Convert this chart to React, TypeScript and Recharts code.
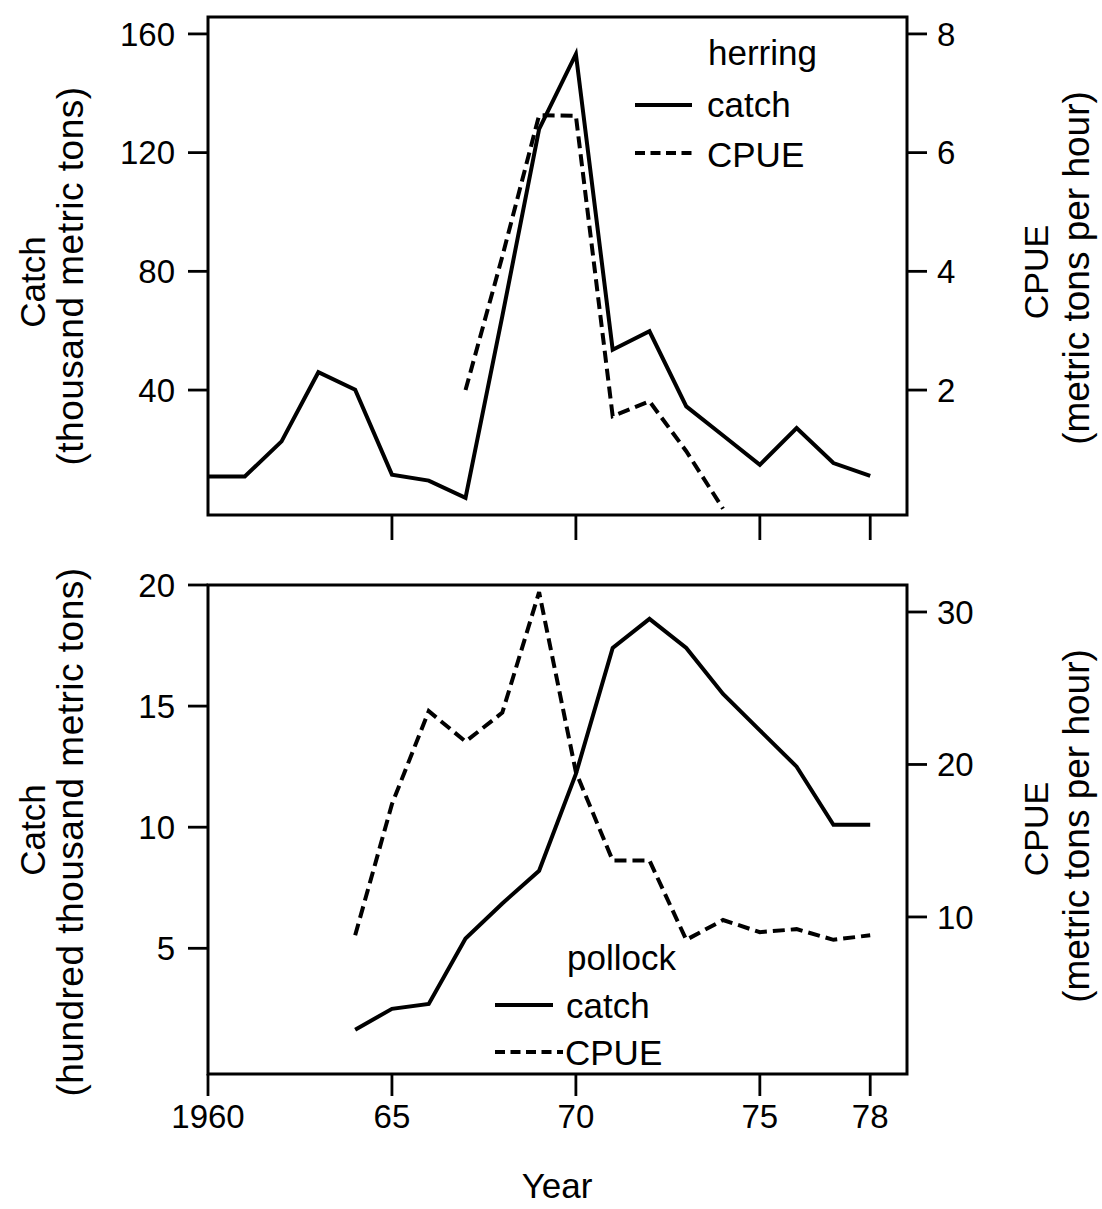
import React from 'react';
import { LineChart, Line, XAxis, YAxis, ReferenceArea, Legend } from 'recharts';

const FONT = '"Liberation Sans", Arial, Helvetica, sans-serif';

// ---- Herring (top panel) ----
const herringYears = [1960, 1961, 1962, 1963, 1964, 1965, 1966, 1967, 1968, 1969, 1970, 1971, 1972, 1973, 1974, 1975, 1976, 1977, 1978];
const herringCatch = [10.9, 10.9, 22.7, 46.0, 40.1, 11.5, 9.5, 3.7, 64.9, 127.9, 153.2, 53.6, 59.8, 34.5, 24.7, 14.8, 27.2, 15.4, 11.1];
const herringCPUE = [null, null, null, null, null, null, null, 2.0, 4.25, 6.63, 6.62, 1.56, 1.81, 0.97, 0.0, null, null, null, null];

// ---- Pollock (bottom panel) ----
const pollockYears = [1964, 1965, 1966, 1967, 1968, 1969, 1970, 1971, 1972, 1973, 1974, 1975, 1976, 1977, 1978];
const pollockCatch = [1.64, 2.5, 2.7, 5.4, 6.85, 8.2, 12.2, 17.4, 18.6, 17.4, 15.5, 14.0, 12.5, 10.1, 10.1];
const pollockCPUE = [8.8, 17.4, 23.5, 21.5, 23.4, 31.3, 19.5, 13.7, 13.7, 8.5, 9.8, 9.0, 9.2, 8.5, 8.8];

// ---- Ticks ----
const topXTicks = [1965, 1970, 1975, 1978];
const bottomXTicks = [1960, 1965, 1970, 1975, 1978];
const herringCatchTicks = [40, 80, 120, 160];
const herringCPUETicks = [2, 4, 6, 8];
const pollockCatchTicks = [5, 10, 15, 20];
const pollockCPUETicks = [10, 20, 30];

const xDomain: [number, number] = [1960, 1979];
const herringCatchDomain: [number, number] = [-2.1, 165.7];
const herringCPUEDomain: [number, number] = [-0.105, 8.285];
const pollockCatchDomain: [number, number] = [-0.19, 20];
const pollockCPUEDomain: [number, number] = [-0.3, 31.77];

const topData = herringYears.map((year, i) => ({ year, catch: herringCatch[i], cpue: herringCPUE[i] }));
const bottomData = pollockYears.map((year, i) => ({ year, catch: pollockCatch[i], cpue: pollockCPUE[i] }));

const tickStyle = { fontSize: 33, fill: '#000', fontFamily: FONT, stroke: 'none' };
const tickLineStyle = { stroke: '#000', strokeWidth: 2.8 };
const DASH = '12 6';
const LINE_W = 4;

const legendTextStyle: React.CSSProperties = { fontSize: 35, fontFamily: FONT, fill: '#000' };

const HerringLegend = () => (
  <svg width={240} height={160} style={{ overflow: 'visible' }}>
    <text x={88} y={45} style={legendTextStyle}>herring</text>
    <line x1={15} y1={85} x2={72} y2={85} stroke="#000" strokeWidth={LINE_W} />
    <text x={87} y={97} style={legendTextStyle}>catch</text>
    <line x1={15} y1={133} x2={72} y2={133} stroke="#000" strokeWidth={LINE_W} strokeDasharray="10 5.5" />
    <text x={87} y={147} style={legendTextStyle}>CPUE</text>
  </svg>
);

const PollockLegend = () => (
  <svg width={240} height={150} style={{ overflow: 'visible' }}>
    <text x={87} y={40} style={legendTextStyle}>pollock</text>
    <line x1={15} y1={75} x2={73} y2={75} stroke="#000" strokeWidth={LINE_W} />
    <text x={86} y={88} style={legendTextStyle}>catch</text>
    <line x1={15} y1={122} x2={83} y2={122} stroke="#000" strokeWidth={LINE_W} strokeDasharray="10 5.5" />
    <text x={85} y={135} style={legendTextStyle}>CPUE</text>
  </svg>
);

const shortYear = (v: number) => (v === 1960 ? '1960' : String(v).slice(2));

export default function App() {
  return (
    <div style={{ position: 'absolute', left: 0, top: 0, width: 1102, height: 1209, background: '#fff', fontFamily: FONT }}>
      {/* Top panel: herring */}
      <div style={{ position: 'absolute', left: 0, top: 0 }}>
        <LineChart width={1102} height={548} data={topData} margin={{ top: 17, right: 0, bottom: 0, left: 0 }}>
          <XAxis
            dataKey="year"
            type="number"
            domain={xDomain}
            ticks={topXTicks}
            interval={0}
            height={33}
            tickSize={25}
            axisLine={false}
            stroke="#000"
            strokeWidth={2.8}
            tickLine={tickLineStyle}
            tickFormatter={() => ''}
          />
          <YAxis
            yAxisId="left"
            orientation="left"
            type="number"
            domain={herringCatchDomain}
            ticks={herringCatchTicks}
            interval={0}
            width={208}
            tickSize={20}
            tickMargin={13}
            axisLine={false}
            stroke="#000"
            strokeWidth={2.8}
            tickLine={tickLineStyle}
            tick={tickStyle}
          />
          <YAxis
            yAxisId="right"
            orientation="right"
            type="number"
            domain={herringCPUEDomain}
            ticks={herringCPUETicks}
            interval={0}
            width={195}
            tickSize={20}
            tickMargin={10}
            axisLine={false}
            stroke="#000"
            strokeWidth={2.8}
            tickLine={tickLineStyle}
            tick={tickStyle}
          />
          <ReferenceArea
            yAxisId="left"
            x1={xDomain[0]}
            x2={xDomain[1]}
            y1={herringCatchDomain[0]}
            y2={herringCatchDomain[1]}
            fill="none"
            fillOpacity={0}
            stroke="#000"
            strokeWidth={3}
            ifOverflow="visible"
          />
          <Line yAxisId="left" dataKey="catch" stroke="#000" strokeWidth={LINE_W} dot={false} isAnimationActive={false} />
          <Line yAxisId="right" dataKey="cpue" stroke="#000" strokeWidth={LINE_W} strokeDasharray={DASH} dot={false} isAnimationActive={false} />
          <Legend
            layout="vertical"
            align="center"
            verticalAlign="middle"
            content={() => <HerringLegend />}
            wrapperStyle={{ position: 'absolute', left: 620, top: 20, width: 240, height: 160 }}
          />
        </LineChart>
      </div>

      {/* Bottom panel: pollock */}
      <div style={{ position: 'absolute', left: 0, top: 560 }}>
        <LineChart width={1102} height={649} data={bottomData} margin={{ top: 25, right: 0, bottom: 0, left: 0 }}>
          <XAxis
            dataKey="year"
            type="number"
            domain={xDomain}
            ticks={bottomXTicks}
            interval={0}
            height={135}
            tickSize={22}
            tickMargin={9}
            axisLine={false}
            stroke="#000"
            strokeWidth={2.8}
            tickLine={tickLineStyle}
            tick={tickStyle}
            tickFormatter={shortYear}
          />
          <YAxis
            yAxisId="left"
            orientation="left"
            type="number"
            domain={pollockCatchDomain}
            ticks={pollockCatchTicks}
            interval={0}
            width={208}
            tickSize={20}
            tickMargin={13}
            axisLine={false}
            stroke="#000"
            strokeWidth={2.8}
            tickLine={tickLineStyle}
            tick={tickStyle}
          />
          <YAxis
            yAxisId="right"
            orientation="right"
            type="number"
            domain={pollockCPUEDomain}
            ticks={pollockCPUETicks}
            interval={0}
            width={195}
            tickSize={20}
            tickMargin={10}
            axisLine={false}
            stroke="#000"
            strokeWidth={2.8}
            tickLine={tickLineStyle}
            tick={tickStyle}
          />
          <ReferenceArea
            yAxisId="left"
            x1={xDomain[0]}
            x2={xDomain[1]}
            y1={pollockCatchDomain[0]}
            y2={pollockCatchDomain[1]}
            fill="none"
            fillOpacity={0}
            stroke="#000"
            strokeWidth={3}
            ifOverflow="visible"
          />
          <Line yAxisId="left" dataKey="catch" stroke="#000" strokeWidth={LINE_W} dot={false} isAnimationActive={false} />
          <Line yAxisId="right" dataKey="cpue" stroke="#000" strokeWidth={LINE_W} strokeDasharray={DASH} dot={false} isAnimationActive={false} />
          <Legend
            layout="vertical"
            align="center"
            verticalAlign="middle"
            content={() => <PollockLegend />}
            wrapperStyle={{ position: 'absolute', left: 480, top: 370, width: 240, height: 150 }}
          />
        </LineChart>
      </div>

      {/* Axis titles */}
      <svg width={1102} height={1209} style={{ position: 'absolute', left: 0, top: 0, pointerEvents: 'none' }}>
        <g fontFamily={FONT} fill="#000">
          <text transform="translate(45,282) rotate(-90)" textAnchor="middle" fontSize={35}>Catch</text>
          <text transform="translate(83,276) rotate(-90)" textAnchor="middle" fontSize={37} letterSpacing={0.5}>(thousand metric tons)</text>
          <text transform="translate(1048,272) rotate(-90)" textAnchor="middle" fontSize={34}>CPUE</text>
          <text transform="translate(1089,268) rotate(-90)" textAnchor="middle" fontSize={37}>(metric tons per hour)</text>

          <text transform="translate(45,830) rotate(-90)" textAnchor="middle" fontSize={35}>Catch</text>
          <text transform="translate(83,832) rotate(-90)" textAnchor="middle" fontSize={37} letterSpacing={0.5}>(hundred thousand metric tons)</text>
          <text transform="translate(1048,829) rotate(-90)" textAnchor="middle" fontSize={34}>CPUE</text>
          <text transform="translate(1089,826) rotate(-90)" textAnchor="middle" fontSize={37}>(metric tons per hour)</text>

          <text x={557} y={1198} textAnchor="middle" fontSize={35}>Year</text>
        </g>
      </svg>
    </div>
  );
}
